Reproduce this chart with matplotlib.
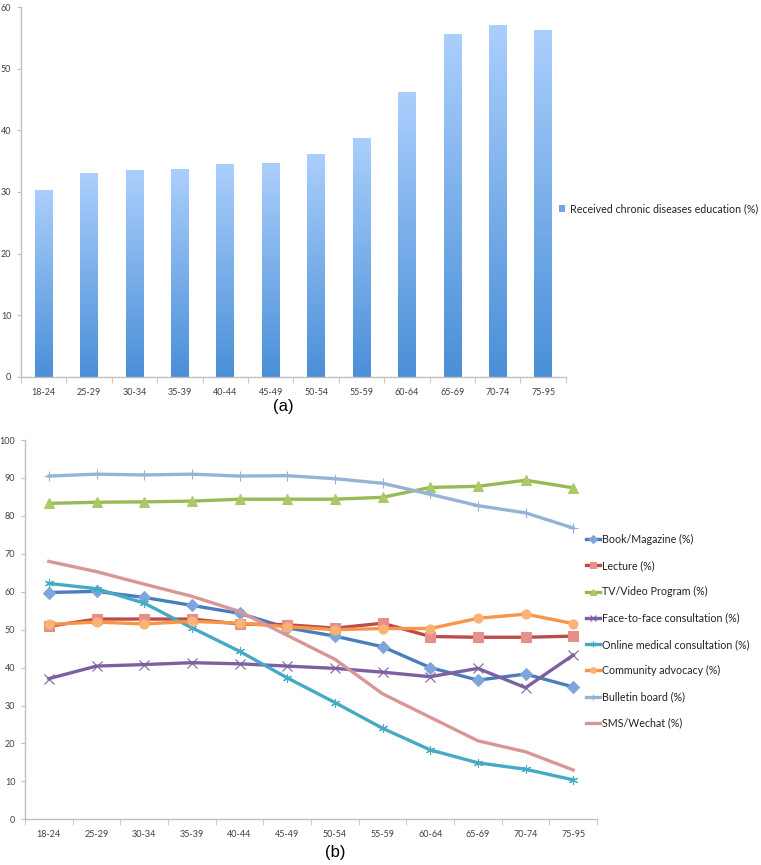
import numpy as np
import matplotlib
matplotlib.use('Agg')
import matplotlib.pyplot as plt
from matplotlib.colors import LinearSegmentedColormap
from matplotlib.patches import Patch
from matplotlib.lines import Line2D

plt.rcParams['font.family'] = ['Lato', 'DejaVu Sans']

# Age groups
ages = ['18-24', '25-29', '30-34', '35-39', '40-44', '45-49',
        '50-54', '55-59', '60-64', '65-69', '70-74', '75-95']

# (a) received chronic diseases education (%)
received = [30.2, 33.0, 33.5, 33.6, 34.4, 34.6, 36.1, 38.7, 46.2, 55.5, 57.0, 56.2]

# (b) sources of education (%)
book = [59.8, 60.1, 58.5, 56.4, 54.3, 50.5, 48.3, 45.5, 40.0, 36.7, 38.3, 34.9]
lecture = [50.9, 52.8, 52.8, 52.8, 51.5, 51.3, 50.4, 51.7, 48.2, 48.0, 48.0, 48.3]
tv = [83.3, 83.6, 83.7, 83.9, 84.4, 84.4, 84.4, 84.9, 87.5, 87.8, 89.4, 87.4]
face = [37.1, 40.4, 40.8, 41.3, 41.0, 40.4, 39.8, 38.8, 37.6, 39.8, 34.7, 43.3]
online = [62.2, 60.8, 57.0, 50.5, 44.3, 37.3, 30.8, 24.0, 18.3, 14.9, 13.2, 10.4]
community = [51.4, 52.0, 51.5, 52.2, 51.7, 50.8, 50.0, 50.3, 50.3, 53.0, 54.1, 51.6]
bulletin = [90.5, 91.0, 90.8, 91.0, 90.5, 90.6, 89.8, 88.6, 85.7, 82.7, 80.8, 76.8]
sms = [68.0, 65.3, 62.0, 58.8, 54.8, 48.5, 42.2, 33.1, 26.9, 20.7, 17.8, 13.0]

series = [
    ('Book/Magazine (%)', book, '#4a7ebb', 'D', '#7ea6dc'),
    ('Lecture (%)', lecture, '#be4b48', 's', '#e6908c'),
    ('TV/Video Program (%)', tv, '#98b954', '^', '#a9c96a'),
    ('Face-to-face consultation (%)', face, '#7d60a0', 'x', '#7d60a0'),
    ('Online medical consultation (%)', online, '#46aac5', (6, 2, 0), '#46aac5'),
    ('Community advocacy (%)', community, '#f79646', 'o', '#f9b377'),
    ('Bulletin board (%)', bulletin, '#95b3d7', '+', '#95b3d7'),
    ('SMS/Wechat (%)', sms, '#d99694', None, '#d99694'),
]

axis_grey = '#bfbfbf'
text_grey = '#404040'


def style_axes(ax, ymax, step):
    x = np.arange(len(ages))
    for s in ['top', 'right']:
        ax.spines[s].set_visible(False)
    for s in ['left', 'bottom']:
        ax.spines[s].set_color(axis_grey)
        ax.spines[s].set_linewidth(1)
    ax.set_xlim(-0.5, len(ages) - 0.5)
    ax.set_ylim(0, ymax)
    ax.set_xticks(x)
    ax.set_xticklabels(ages)
    ax.set_xticks(np.arange(-0.5, len(ages)), minor=True)
    ax.tick_params(axis='x', which='major', length=0, pad=8, labelsize=6.5, labelcolor=text_grey)
    ax.tick_params(axis='x', which='minor', length=4, color=axis_grey)
    ax.set_yticks(np.arange(0, ymax + 1, step))
    ax.tick_params(axis='y', length=3, color=axis_grey, pad=4, labelsize=6.5, labelcolor=text_grey)


fig = plt.figure(figsize=(7.61, 8.65), dpi=100)

# ---- (a) bar chart with gradient fill
ax1 = fig.add_axes([0.0276, 0.5642, 0.716, 0.4277])
cmap = LinearSegmentedColormap.from_list('barg', ['#4a8fd8', '#abcffc'])
grad = np.linspace(0, 1, 256).reshape(-1, 1)
bars = ax1.bar(np.arange(len(ages)), received, width=0.39, color='none', zorder=2)
for b in bars:
    x0 = b.get_x()
    ax1.imshow(grad, extent=[x0, x0 + b.get_width(), 0, b.get_height()],
               origin='lower', cmap=cmap, aspect='auto', zorder=2)
style_axes(ax1, 60, 10)
ax1.legend([Patch(facecolor='#6fa6e6')], ['Received chronic diseases education (%)'],
           loc='center left', bbox_to_anchor=(559 / 761, 1 - 209 / 865),
           bbox_transform=fig.transFigure, borderpad=0, borderaxespad=0,
           frameon=False, fontsize=7.7, handlelength=0.6, handleheight=0.6,
           handletextpad=0.4, labelcolor='#222222')
fig.text(283 / 761, 1 - 407 / 865, '(a)', ha='center', va='center',
         fontsize=12, family='Liberation Sans')

# ---- (b) line chart
ax2 = fig.add_axes([0.0329, 0.0528, 0.7517, 0.4385])
x = np.arange(len(ages))
handles = []
for label, vals, col, mk, mface in series:
    edge = col if mk in ('x', '+', (6, 2, 0)) else mface
    ax2.plot(x, vals, color=col, lw=2.4, marker=mk, markersize=6.5,
             markerfacecolor=mface, markeredgecolor=edge,
             markeredgewidth=0.8, zorder=3)
    handles.append(Line2D([0], [0], color=col, lw=2.4, marker=mk, markersize=4,
                          markerfacecolor=mface, markeredgecolor=edge, markeredgewidth=0.8))
style_axes(ax2, 100, 10)
ax2.legend(handles, [s[0] for s in series], loc='upper left',
           bbox_to_anchor=(586 / 761, 1 - 534 / 865), bbox_transform=fig.transFigure,
           frameon=False, fontsize=7.7, handlelength=1.3, handletextpad=0.15,
           labelspacing=1.42, borderpad=0, borderaxespad=0, labelcolor='#222222')
fig.text(335 / 761, 1 - 853 / 865, '(b)', ha='center', va='center',
         fontsize=12, family='Liberation Sans')

fig.savefig('out.png', dpi=100)
